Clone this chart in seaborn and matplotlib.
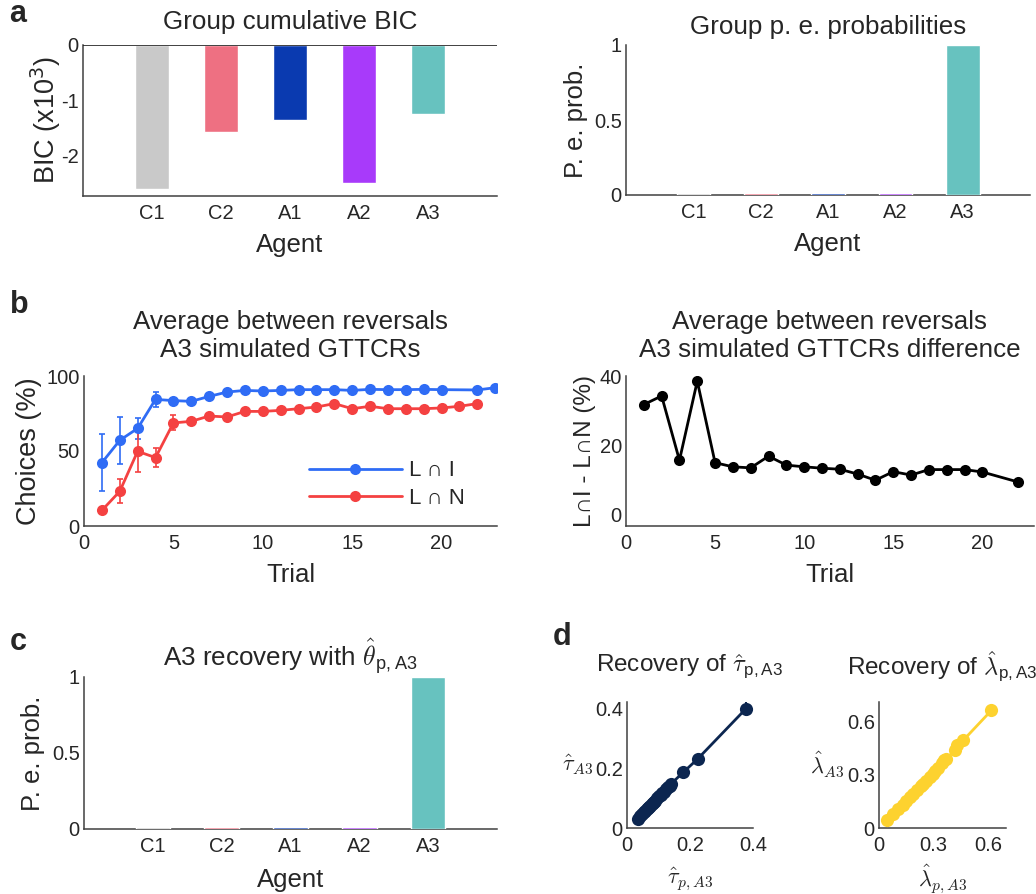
import matplotlib
matplotlib.use("Agg")
import numpy as np
import pandas as pd
import matplotlib.pyplot as plt
import seaborn as sns
from matplotlib.ticker import FuncFormatter

# ----- data -----
AGENTS = ["C1", "C2", "A1", "A2", "A3"]
AGENT_COLORS = ["#c9c9c9", "#ee7082", "#0a3ab0", "#a83afa", "#67c2bf"]
BIC = [-2.61, -1.58, -1.36, -2.50, -1.25]          # x10^3
PEP_GROUP = [0.015, 0.015, 0.015, 0.015, 1.0]
PEP_RECOV = [0.015, 0.015, 0.015, 0.015, 1.0]

TRIALS_LI = [1, 2, 3, 4, 5, 6, 7, 8, 9, 10, 11, 12, 13, 14, 15, 16, 17, 18, 19, 20, 22, 23]
CHOICE_LI = [42.2, 57.1, 65.1, 84.4, 83.6, 83.1, 86.4, 89.3, 90.4, 90.0, 90.4,
             90.9, 90.9, 90.9, 90.4, 91.1, 90.9, 90.9, 91.1, 90.9, 90.7, 92.2]
ERR_LI = [19.0, 15.5, 7.0, 5.0, 2.0, 2.5, 1.5, 1.0, 1.0, 0.8, 0.8,
          0.8, 0.8, 0.8, 0.8, 0.8, 0.8, 0.8, 0.8, 0.8, 0.8, 0.8]

TRIALS_LN = [1, 2, 3, 4, 5, 6, 7, 8, 9, 10, 11, 12, 13, 14, 15, 16, 17, 18, 19, 20, 21, 22]
CHOICE_LN = [10.4, 23.1, 49.8, 45.6, 68.7, 69.8, 73.3, 72.7, 76.4, 76.4, 77.1,
             78.2, 79.3, 81.6, 78.2, 79.8, 78.2, 78.2, 78.2, 78.7, 79.8, 81.6]
ERR_LN = [1.0, 8.0, 14.0, 6.5, 5.0, 1.5, 1.2, 1.0, 1.0, 1.0, 1.0,
          1.0, 1.0, 1.0, 1.0, 1.0, 1.0, 1.0, 1.0, 1.0, 1.0, 1.0]

TRIALS_DIFF = [1, 2, 3, 4, 5, 6, 7, 8, 9, 10, 11, 12, 13, 14, 15, 16, 17, 18, 19, 20, 22]
DIFF = [31.9, 34.4, 15.7, 38.7, 15.0, 13.8, 13.5, 16.9, 14.3, 13.8, 13.4,
        13.1, 11.7, 9.9, 12.4, 11.4, 13.0, 13.0, 13.0, 12.3, 9.4]

TAU_TRUE = [0.034, 0.042, 0.048, 0.053, 0.058, 0.062, 0.066, 0.070, 0.074, 0.078, 0.082,
            0.086, 0.090, 0.096, 0.103, 0.108, 0.112, 0.118, 0.124, 0.130, 0.136, 0.140,
            0.178, 0.224, 0.378]
TAU_REC = [0.031, 0.040, 0.047, 0.053, 0.058, 0.063, 0.067, 0.071, 0.075, 0.080, 0.084,
           0.088, 0.092, 0.099, 0.107, 0.112, 0.116, 0.122, 0.129, 0.136, 0.142, 0.148,
           0.186, 0.231, 0.400]
TAU_ERR = [0.002] * 24 + [0.025]

LAM_TRUE = [0.044, 0.075, 0.105, 0.130, 0.150, 0.170, 0.190, 0.210, 0.230, 0.245, 0.260,
            0.280, 0.295, 0.310, 0.325, 0.345, 0.360, 0.370, 0.420, 0.430, 0.465, 0.620]
LAM_REC = [0.043, 0.078, 0.107, 0.130, 0.153, 0.175, 0.195, 0.215, 0.236, 0.250, 0.268,
           0.290, 0.305, 0.322, 0.340, 0.365, 0.382, 0.392, 0.440, 0.470, 0.497, 0.666]

BLUE, RED = "#2f6cf5", "#f44141"
NAVY, YELLOW = "#0c2650", "#fdd22f"
INK = "#262626"

sns.set_style("white")
plt.rcParams["font.family"] = ["Liberation Sans", "DejaVu Sans"]
plt.rcParams["axes.unicode_minus"] = False
plt.rcParams["text.color"] = INK
plt.rcParams["axes.labelcolor"] = INK
plt.rcParams["xtick.color"] = INK
plt.rcParams["ytick.color"] = INK

W, H = 1036, 894
fig = plt.figure(figsize=(W / 100, H / 100), dpi=100)

TITLE_FS = 18.7
LABEL_FS = 18.5
TICK_FS = 14.5


def add_ax(left, top, right, bottom):
    return fig.add_axes([left / W, 1 - bottom / H, (right - left) / W, (bottom - top) / H])


def style(ax):
    sns.despine(ax=ax)
    for s in ("left", "bottom"):
        ax.spines[s].set_color("#404040")
        ax.spines[s].set_linewidth(1.1)
        ax.spines[s].set_zorder(1)
    ax.tick_params(length=0, labelsize=TICK_FS, pad=6)
    ax.tick_params(axis="y", pad=3)
    fmt = FuncFormatter(lambda v, p: f"{v:g}")
    ax.yaxis.set_major_formatter(fmt)
    ax.xaxis.set_major_formatter(fmt)


def title(ax, text, y, fs=TITLE_FS, **kw):
    ax.set_title(text, fontsize=fs, y=y, va="center", pad=0, **kw)


def labels(ax, xl, yl, xy, yx, ysize=LABEL_FS):
    ax.set_xlabel(xl, fontsize=LABEL_FS, va="center")
    ax.xaxis.set_label_coords(0.5, xy)
    ax.set_ylabel(yl, fontsize=ysize, va="center")
    ax.yaxis.set_label_coords(yx, 0.5)


def agent_bars(ax, values):
    df = pd.DataFrame({"agent": AGENTS, "value": values})
    sns.barplot(data=df, x="agent", y="value", hue="agent", palette=AGENT_COLORS,
                width=0.5, saturation=1, legend=False, ax=ax, zorder=3)
    ax.set_xlim(-1, 5)


# ----- a (left): cumulative BIC -----
ax = add_ax(83, 45, 497, 196)
agent_bars(ax, BIC)
ax.axhline(0, color="#202020", lw=1.2, zorder=4)
ax.set_ylim(-2.74, 0)
ax.set_yticks([-2, -1, 0])
style(ax)
ax.set_xticks(range(5))
ax.set_xticklabels(AGENTS)
title(ax, "Group cumulative BIC", 1.152)
labels(ax, "Agent", r"BIC (x10$^3$)", -0.325, -0.09, ysize=19.5)

# ----- a (right): group p.e. probabilities -----
ax = add_ax(626, 45, 1030, 195)
agent_bars(ax, PEP_GROUP)
ax.set_ylim(0, 1)
ax.set_yticks([0, 0.5, 1])
style(ax)
ax.set_xticks(range(5))
ax.set_xticklabels(AGENTS)
title(ax, "Group p. e. probabilities", 1.12)
labels(ax, "Agent", "P. e. prob.", -0.33, -0.124)

# ----- b (left): simulated GTTCRs -----
ax = add_ax(84, 376, 497, 526)
ax.errorbar(TRIALS_LI, CHOICE_LI, yerr=ERR_LI, fmt="none", ecolor=BLUE,
            elinewidth=1.2, capsize=2, capthick=1.2)
ax.errorbar(TRIALS_LN, CHOICE_LN, yerr=ERR_LN, fmt="none", ecolor=RED,
            elinewidth=1.2, capsize=2, capthick=1.2)
sns.lineplot(x=TRIALS_LI, y=CHOICE_LI, color=BLUE, marker="o", markersize=8,
             markeredgewidth=0, lw=2, label="L \u2229 I", ax=ax)
sns.lineplot(x=TRIALS_LN, y=CHOICE_LN, color=RED, marker="o", markersize=8,
             markeredgewidth=0, lw=2, label="L \u2229 N", ax=ax)
ax.set_xlim(0, 23.1)
ax.set_ylim(0, 100)
ax.set_xticks([0, 5, 10, 15, 20])
ax.set_yticks([0, 50, 100])
style(ax)
ax.legend(loc="lower right", frameon=False, fontsize=16, handlelength=4.2,
          handletextpad=0.3, labelspacing=0.3, bbox_to_anchor=(0.97, -0.02))
title(ax, "Average between reversals\nA3 simulated GTTCRs", 1.267)
labels(ax, "Trial", "Choices (%)", -0.327, -0.133, ysize=19.5)

# ----- b (right): difference -----
ax = add_ax(626, 376, 1034, 526)
sns.lineplot(x=TRIALS_DIFF, y=DIFF, color="black", marker="o", markersize=8,
             markeredgewidth=0, lw=2, ax=ax)
ax.set_xlim(0, 22.9)
ax.set_ylim(-3.4, 40.2)
ax.set_xticks([0, 5, 10, 15, 20])
ax.set_yticks([0, 20, 40])
style(ax)
title(ax, "Average between reversals\nA3 simulated GTTCRs difference", 1.267)
labels(ax, "Trial", "L\u2229I - L\u2229N (%)", -0.327, -0.10, ysize=17.5)

# ----- c: A3 recovery -----
ax = add_ax(84, 677, 497, 829)
agent_bars(ax, PEP_RECOV)
ax.set_ylim(0, 1)
ax.set_yticks([0, 0.5, 1])
style(ax)
ax.set_xticks(range(5))
ax.set_xticklabels(AGENTS)
title(ax, r"A3 recovery with $\hat{\theta}_{\mathregular{p,A3}}$", 1.13,
      math_fontfamily="cm")
labels(ax, "Agent", "P. e. prob.", -0.335, -0.123)

# ----- d: parameter recovery -----
ax = add_ax(627, 702, 753, 828)
ax.errorbar(TAU_TRUE, TAU_REC, yerr=TAU_ERR, fmt="none", ecolor=NAVY, elinewidth=1.5)
sns.lineplot(x=TAU_TRUE, y=TAU_REC, color=NAVY, lw=2, ax=ax)
sns.scatterplot(x=TAU_TRUE, y=TAU_REC, color=NAVY, s=90, linewidth=0, ax=ax, zorder=3)
ax.set_xlim(0, 0.4)
ax.set_ylim(0, 0.422)
ax.set_xticks([0, 0.2, 0.4])
ax.set_yticks([0, 0.2, 0.4])
style(ax)
title(ax, r"Recovery of $\hat{\tau}_{\mathregular{p,A3}}$", 1.28, fs=17.5,
      math_fontfamily="cm")
ax.set_xlabel(r"$\hat{\tau}_{p,A3}$", fontsize=16, va="center", math_fontfamily="cm")
ax.xaxis.set_label_coords(0.5, -0.40)
ax.set_ylabel(r"$\hat{\tau}_{A3}$", fontsize=16, rotation=0, ha="right", va="center",
              math_fontfamily="cm")
ax.yaxis.set_label_coords(-0.27, 0.5)

ax = add_ax(879, 702, 1006, 828)
sns.lineplot(x=LAM_TRUE, y=LAM_REC, color=YELLOW, lw=2, ax=ax)
sns.scatterplot(x=LAM_TRUE, y=LAM_REC, color=YELLOW, s=90, linewidth=0, ax=ax, zorder=3)
ax.set_xlim(0, 0.7)
ax.set_ylim(0, 0.713)
ax.set_xticks([0, 0.3, 0.6])
ax.set_yticks([0, 0.3, 0.6])
style(ax)
title(ax, r"Recovery of $\hat{\lambda}_{\mathregular{p,A3}}$", 1.28, fs=17.5,
      math_fontfamily="cm")
ax.set_xlabel(r"$\hat{\lambda}_{p,A3}$", fontsize=16, va="center", math_fontfamily="cm")
ax.xaxis.set_label_coords(0.5, -0.40)
ax.set_ylabel(r"$\hat{\lambda}_{A3}$", fontsize=16, rotation=0, ha="right", va="center",
              math_fontfamily="cm")
ax.yaxis.set_label_coords(-0.27, 0.5)

# ----- panel letters -----
for letter, x, y in [("a", 9, 14), ("b", 10, 305), ("c", 10, 642), ("d", 553, 637)]:
    fig.text(x / W, 1 - y / H, letter, fontsize=22, fontweight="bold",
             ha="left", va="center")

fig.savefig("out.png", dpi=100, facecolor="white")
